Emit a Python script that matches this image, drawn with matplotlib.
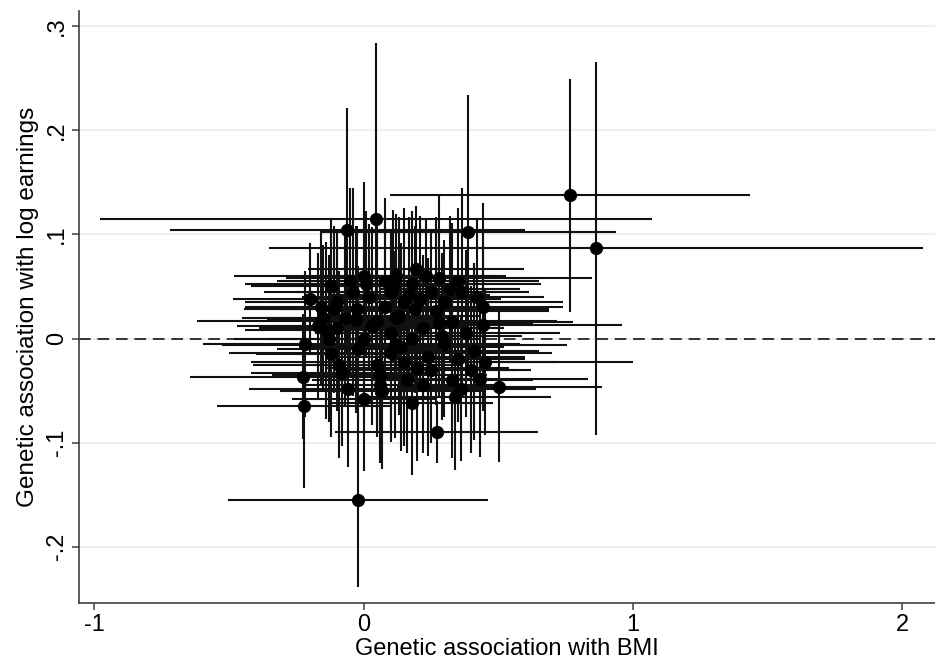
import numpy as np
import matplotlib
matplotlib.use('Agg')
import matplotlib.pyplot as plt

# genetic association estimates per SNP (BMI vs log earnings), half-width of 95% CI
bmi_beta = [0.766, 0.863, 0.046, -0.060, 0.388, 0.195, -0.199, -0.026, 0.269, 0.327,
            0.445, -0.218, 0.451, -0.224, 0.432, 0.504, -0.057, 0.000, 0.179, 0.339,
            -0.221, 0.271, -0.022, 0.000, 0.280, 0.180, 0.150, 0.190, 0.050, -0.100,
            0.115, 0.100, 0.150, -0.080, 0.100, -0.120, 0.350, 0.250, 0.020, -0.050,
            0.080, 0.300, 0.220, 0.380, -0.150, 0.120, 0.000, 0.300, -0.120, 0.050,
            0.250, 0.350, -0.100, 0.060, 0.220, 0.400, 0.120, 0.366, 0.442, -0.130,
            0.080, -0.020, 0.160, 0.280, -0.070, 0.330, 0.100, 0.180, -0.040, 0.230,
            0.110, -0.140, -0.090, 0.030, 0.140, 0.210, 0.320, 0.410, -0.160, -0.030,
            0.060, 0.170, 0.240, 0.360, -0.110, 0.010, 0.130, 0.200, 0.290, 0.420,
            -0.170, 0.070]
bmi_ci = [0.668, 1.214, 1.025, 0.660, 0.550, 0.400, 0.286, 0.420, 0.420, 0.450,
          0.515, 0.380, 0.550, 0.420, 0.400, 0.380, 0.370, 0.267, 0.300, 0.356,
          0.324, 0.377, 0.483, 0.480, 0.570, 0.480, 0.590, 0.500, 0.670, 0.290,
          0.640, 0.600, 0.570, 0.340, 0.350, 0.300, 0.300, 0.250, 0.250, 0.270,
          0.300, 0.280, 0.300, 0.350, 0.300, 0.220, 0.350, 0.280, 0.280, 0.300,
          0.320, 0.250, 0.250, 0.280, 0.300, 0.220, 0.280, 0.250, 0.300, 0.350,
          0.250, 0.300, 0.350, 0.350, 0.300, 0.300, 0.280, 0.250, 0.330, 0.300,
          0.260, 0.300, 0.320, 0.350, 0.380, 0.300, 0.260, 0.240, 0.280, 0.330,
          0.400, 0.300, 0.360, 0.280, 0.260, 0.450, 0.300, 0.340, 0.300, 0.250,
          0.300, 0.380]
earn_beta = [0.1377, 0.0867, 0.115, 0.104, 0.102, 0.067, 0.0378, 0.028, 0.0265, 0.016,
             0.0128, -0.005, -0.0225, -0.0369, -0.0384, -0.047, -0.048, -0.0576, -0.0619, -0.056,
             -0.065, -0.0897, -0.155, 0.060, 0.058, 0.052, 0.035, 0.028, 0.0165, 0.010,
             -0.006, -0.014, -0.023, -0.033, 0.045, 0.050, 0.055, 0.045, 0.040, 0.055,
             0.030, 0.035, 0.010, 0.005, 0.020, 0.020, 0.000, -0.005, -0.015, -0.025,
             -0.030, -0.020, 0.035, -0.045, -0.045, -0.030, 0.060, 0.045, 0.030, 0.000,
             0.055, -0.010, -0.040, 0.015, 0.020, -0.040, 0.005, 0.000, 0.045, 0.060,
             0.050, 0.008, -0.025, 0.012, -0.008, 0.038, 0.048, -0.012, 0.030, 0.018,
             -0.035, 0.042, -0.018, -0.048, 0.028, 0.052, 0.022, -0.028, 0.002, 0.040,
             0.012, -0.050]
earn_ci = [0.112, 0.179, 0.169, 0.117, 0.132, 0.060, 0.054, 0.080, 0.090, 0.095,
           0.080, 0.070, 0.070, 0.060, 0.075, 0.072, 0.075, 0.070, 0.069, 0.070,
           0.079, 0.030, 0.084, 0.090, 0.080, 0.070, 0.090, 0.080, 0.100, 0.080,
           0.090, 0.085, 0.080, 0.070, 0.060, 0.065, 0.070, 0.060, 0.070, 0.090,
           0.080, 0.060, 0.070, 0.080, 0.070, 0.060, 0.080, 0.070, 0.080, 0.070,
           0.070, 0.060, 0.070, 0.065, 0.065, 0.080, 0.060, 0.100, 0.100, 0.080,
           0.080, 0.080, 0.070, 0.070, 0.085, 0.075, 0.090, 0.070, 0.100, 0.055,
           0.073, 0.085, 0.090, 0.095, 0.100, 0.080, 0.070, 0.085, 0.075, 0.090,
           0.085, 0.075, 0.095, 0.070, 0.080, 0.070, 0.095, 0.090, 0.080, 0.075,
           0.070, 0.075]

x_ticks = [-1, 0, 1, 2]
y_ticks = [-0.2, -0.1, 0, 0.1, 0.2, 0.3]
y_ticklabels = ['-.2', '-.1', '0', '.1', '.2', '.3']

plt.rcParams['font.family'] = ['Liberation Sans', 'DejaVu Sans']

fig = plt.figure(figsize=(9.35, 6.68), dpi=100)
ax = fig.add_axes([0.0845, 0.0973, 0.9155, 0.886])

for y in y_ticks:
    ax.axhline(y, color='#e8f0f2', linewidth=1.5, zorder=0)
ax.axhline(0, color='#333333', linestyle=(0, (6, 3.5)), linewidth=1.4, zorder=1)

ax.errorbar(bmi_beta, earn_beta, xerr=bmi_ci, yerr=earn_ci, fmt='o', color='black',
            ecolor='#111111', elinewidth=1.5, capsize=0, markersize=8.5, zorder=3)

ax.set_xlim(-1.057, 2.122)
ax.set_ylim(-0.254, 0.3144)
ax.set_xticks(x_ticks)
ax.set_xticklabels([str(v) for v in x_ticks])
ax.set_yticks(y_ticks)
ax.set_yticklabels(y_ticklabels, rotation=90, va='center')

for s in ['top', 'right']:
    ax.spines[s].set_visible(False)
for s in ['left', 'bottom']:
    ax.spines[s].set_color('#404040')
    ax.spines[s].set_linewidth(1.2)

ax.tick_params(length=5, width=1.1, color='#404040', labelsize=17, pad=3)
ax.set_xlabel('Genetic association with BMI', fontsize=17, labelpad=1)
ax.set_ylabel('Genetic association with log earnings', fontsize=17.5, labelpad=5)

fig.savefig('out.png', dpi=100)
